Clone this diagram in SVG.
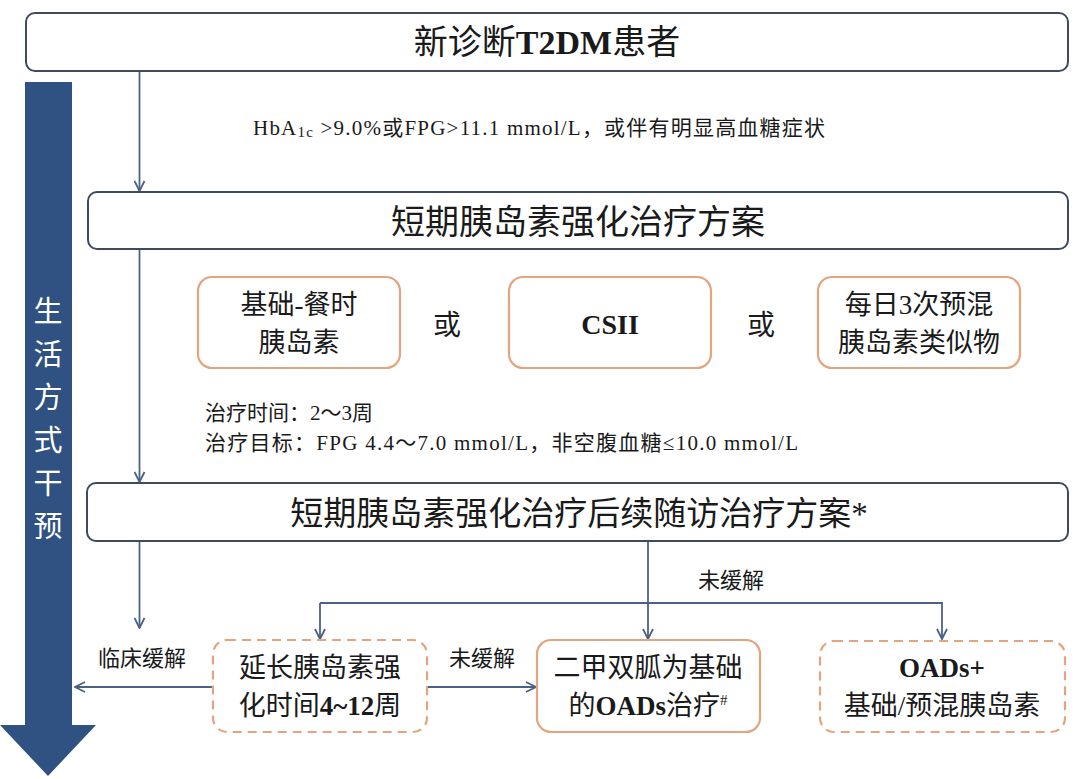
<svg xmlns="http://www.w3.org/2000/svg" width="1080" height="779" viewBox="0 0 1080 779">
<defs>
<style>
.main{fill:#fff;stroke:#3e4a60;stroke-width:2}
.opt{fill:#fff;stroke:#e2a57e;stroke-width:2.2}
.dash{fill:#fff;stroke:#e2a57e;stroke-width:2.2;stroke-dasharray:9 6}
.con{fill:none;stroke:#4b6185;stroke-width:1.8}
.t{font-family:"Liberation Serif","Noto Sans CJK SC",serif;fill:#1a1a1a}
.cn{font-family:"Noto Sans CJK SC",sans-serif;fill:#1a1a1a}
.vt{font-family:"Noto Sans CJK SC",sans-serif;fill:#ffffff;font-size:29px}
.b{font-weight:bold}
</style>
<marker id="ah" viewBox="0 0 12 12" refX="11" refY="6" markerWidth="12" markerHeight="12" markerUnits="userSpaceOnUse" orient="auto">
<path d="M1,1 L11,6 L1,11" fill="none" stroke="#4b6185" stroke-width="1.8"/>
</marker>
</defs>
<rect width="1080" height="779" fill="#fff"/>

<g id="lifestyle">
<polygon points="25,82 72,82 72,725 96,725 48,776 0,725 25,725" fill="#2f5282"/>
<text class="vt" x="48" y="322" text-anchor="middle">生</text>
<text class="vt" x="48" y="365" text-anchor="middle">活</text>
<text class="vt" x="48" y="408" text-anchor="middle">方</text>
<text class="vt" x="48" y="451" text-anchor="middle">式</text>
<text class="vt" x="48" y="494" text-anchor="middle">干</text>
<text class="vt" x="48" y="537" text-anchor="middle">预</text>
</g>

<g id="connectors">
<line class="con" x1="139.5" y1="71" x2="139.5" y2="191" marker-end="url(#ah)"/>
<line class="con" x1="139.5" y1="249" x2="139.5" y2="482" marker-end="url(#ah)"/>
<line class="con" x1="139.5" y1="541" x2="139.5" y2="628" marker-end="url(#ah)"/>
<line class="con" x1="648" y1="541" x2="648" y2="639" marker-end="url(#ah)"/>
<polyline class="con" points="320,603 942,603 942,639" marker-end="url(#ah)"/>
<line class="con" x1="320" y1="603" x2="320" y2="639" marker-end="url(#ah)"/>
<line class="con" x1="213" y1="687" x2="75" y2="687" marker-end="url(#ah)"/>
<line class="con" x1="427" y1="687" x2="536" y2="687" marker-end="url(#ah)"/>
<text class="cn" font-size="22" x="142" y="666" text-anchor="middle">临床缓解</text>
<text class="cn" font-size="22" x="482" y="666" text-anchor="middle">未缓解</text>
<text class="cn" font-size="22" x="731" y="588" text-anchor="middle">未缓解</text>
</g>

<g id="n_new">
<rect class="main" x="26" y="13" width="1042" height="58" rx="9"/>
<text class="t" font-size="34" x="547" y="54" text-anchor="middle">新诊断<tspan class="b">T2DM</tspan>患者</text>
</g>

<g id="cond1">
<text class="t" font-size="21" x="253" y="135" textLength="572" lengthAdjust="spacing">HbA<tspan font-size="15" dy="2">1c</tspan><tspan dy="-2"> &gt;9.0%或FPG&gt;11.1 mmol/L，或伴有明显高血糖症状</tspan></text>
</g>

<g id="n_short">
<rect class="main" x="88" y="192" width="980" height="57" rx="9"/>
<text class="cn" font-size="34" x="578" y="234" text-anchor="middle">短期胰岛素强化治疗方案</text>
</g>

<g id="opt1">
<rect class="opt" x="198" y="277" width="202" height="91" rx="14"/>
<text class="t" font-size="27" text-anchor="middle"><tspan x="299" y="314">基础-餐时</tspan><tspan x="299" y="352">胰岛素</tspan></text>
</g>
<g id="or1"><text class="cn" font-size="28" x="447" y="335" text-anchor="middle">或</text></g>
<g id="opt2">
<rect class="opt" x="509" y="277" width="202" height="91" rx="14"/>
<text class="t b" font-size="28" x="610" y="334" text-anchor="middle">CSII</text>
</g>
<g id="or2"><text class="cn" font-size="28" x="761" y="335" text-anchor="middle">或</text></g>
<g id="opt3">
<rect class="opt" x="818" y="277" width="202" height="91" rx="14"/>
<text class="t" font-size="27" text-anchor="middle"><tspan x="919" y="314">每日3次预混</tspan><tspan x="919" y="352">胰岛素类似物</tspan></text>
</g>

<g id="notes">
<text class="t" font-size="21" x="205" y="420">治疗时间：2～3周</text>
<text class="t" font-size="21" x="205" y="450" textLength="593" lengthAdjust="spacing">治疗目标：FPG 4.4～7.0 mmol/L，非空腹血糖≤10.0 mmol/L</text>
</g>

<g id="n_follow">
<rect class="main" x="87" y="483" width="981" height="58" rx="9"/>
<text class="t" font-size="33" x="579" y="525" text-anchor="middle">短期胰岛素强化治疗后续随访治疗方案*</text>
</g>

<g id="n_extend">
<rect class="dash" x="213" y="640" width="214" height="92" rx="14"/>
<text class="t" font-size="27" text-anchor="middle"><tspan x="320" y="677">延长胰岛素强</tspan><tspan x="320" y="715">化时间<tspan class="b">4~12</tspan>周</tspan></text>
</g>

<g id="n_met">
<rect class="opt" x="537" y="640" width="223" height="92" rx="14"/>
<text class="t" font-size="27" text-anchor="middle"><tspan x="648" y="677">二甲双胍为基础</tspan><tspan x="648" y="715">的<tspan class="b">OADs</tspan>治疗<tspan font-size="15" dy="-10">#</tspan></tspan></text>
</g>

<g id="n_oads">
<rect class="dash" x="820" y="641" width="245" height="91" rx="14"/>
<text class="t" font-size="27" text-anchor="middle"><tspan class="b" x="942" y="677">OADs+</tspan><tspan x="942" y="715">基础/预混胰岛素</tspan></text>
</g>
</svg>
